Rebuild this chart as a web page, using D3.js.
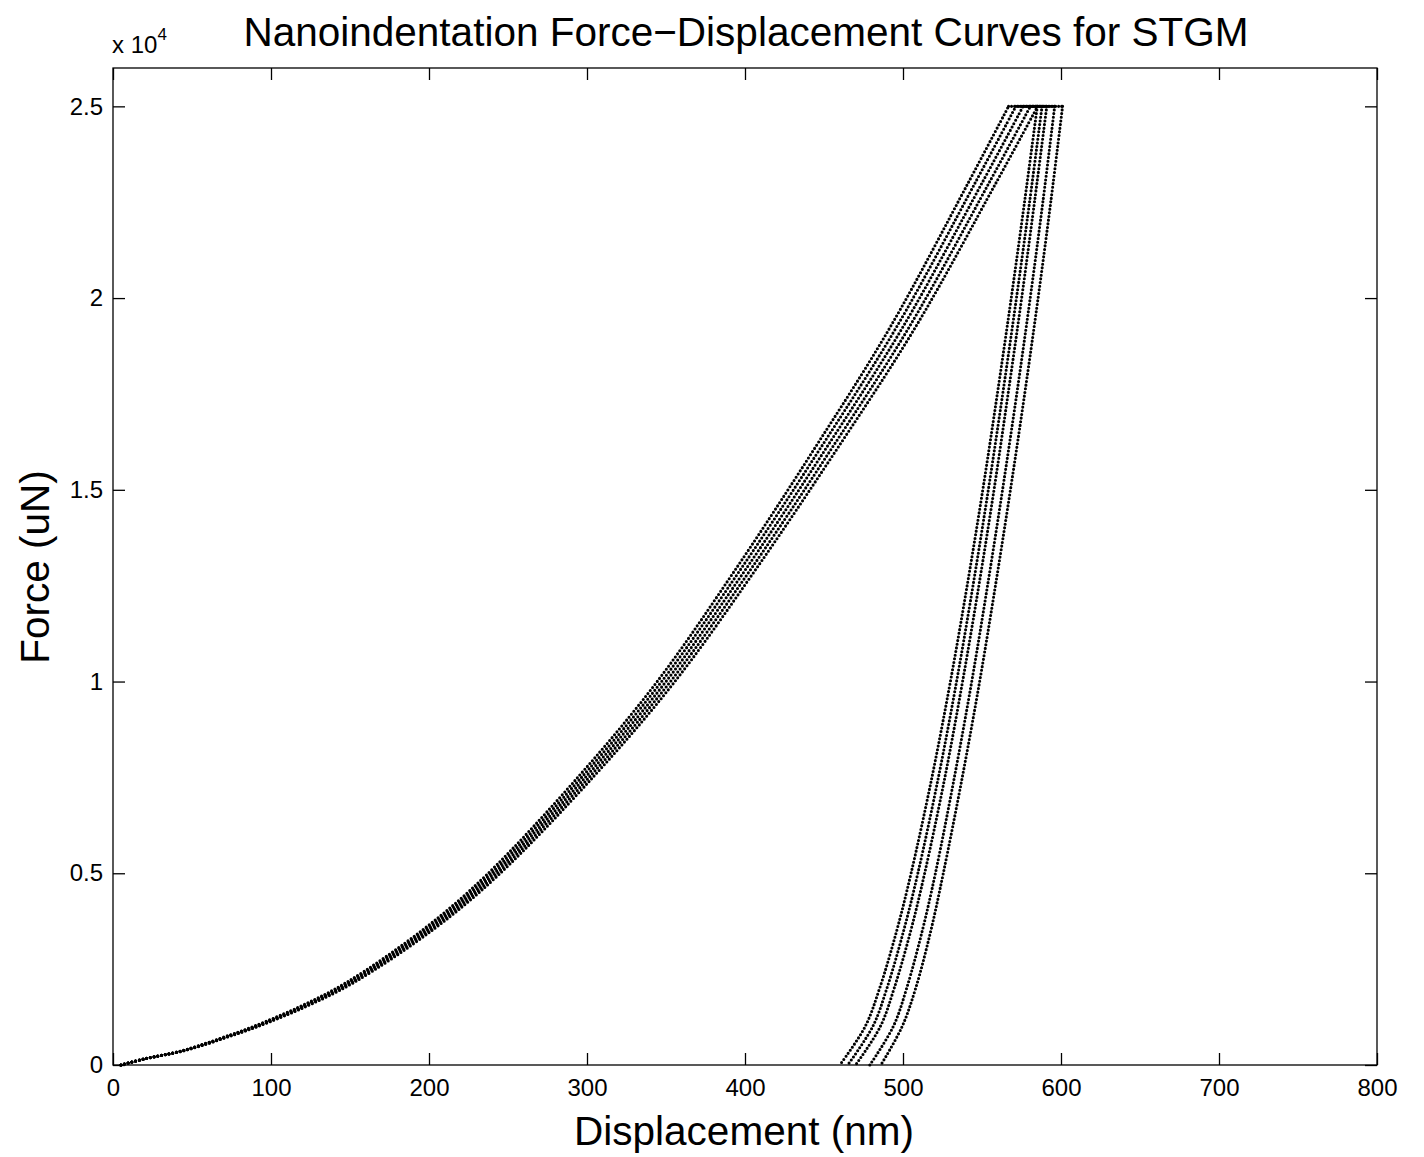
<!DOCTYPE html>
<html><head><meta charset="utf-8">
<script src="https://cdn.jsdelivr.net/npm/d3@7"></script>
<style>body{margin:0;background:#fff}svg{display:block}text{font-family:"Liberation Sans",Arial,Helvetica,sans-serif;fill:#000}</style>
</head><body><svg id="c" width="1424" height="1157"></svg>
<script>
// Loading: common force levels (uN) and displacement (nm) per test
const loadForce = [0, 160, 380, 780, 1000, 1520, 2150, 3550, 4950, 7550, 10000, 12900, 16000, 19250, 23000, 25000];
const loadDisp1 = [5, 19.7, 44.3, 73.8, 88.6, 118.1, 147.6, 196.8, 236.2, 295.2, 344.4, 393.6, 442.8, 492, 541.2, 566.8];
const loadDisp2 = [5, 19.8, 44.6, 74.4, 89.3, 119, 148.8, 198.4, 238.1, 297.6, 347.2, 396.8, 446.4, 496, 545.6, 571.4];
const loadDisp3 = [5, 20, 45, 75, 90, 120, 150, 200, 240, 300, 350, 400, 450, 500, 550, 576];
const loadDisp4 = [5, 20.2, 45.4, 75.6, 90.7, 121, 151.2, 201.6, 241.9, 302.4, 352.8, 403.2, 453.6, 504, 554.4, 580.6];
const loadDisp5 = [5, 20.3, 45.7, 76.2, 91.4, 121.9, 152.4, 203.2, 243.8, 304.8, 355.6, 406.4, 457.2, 508, 558.8, 585.2];
// Unloading: common force levels and displacement per test (first point = end of hold)
const unloadForce = [25000, 22500, 20000, 17500, 15000, 12500, 10000, 7500, 5000, 3500, 2000, 1000, 0];
const unloadDisp1 = [585, 576.9, 568.5, 559.7, 550.5, 540.6, 530.0, 518.3, 505.1, 496.0, 485.2, 476.0, 460];
const unloadDisp2 = [588, 580.1, 571.8, 563.1, 554.0, 544.3, 533.9, 522.4, 509.4, 500.4, 489.8, 480.8, 465];
const unloadDisp3 = [591, 583.2, 575.1, 566.5, 557.6, 548.0, 537.7, 526.5, 513.7, 504.9, 494.4, 485.6, 470];
const unloadDisp4 = [596, 588.5, 580.5, 572, 563, 553.5, 543.5, 532.5, 520.5, 512.2, 502.3, 493.8, 479];
const unloadDisp5 = [601, 593.5, 585.5, 577, 568, 558.5, 548.5, 537.5, 525.5, 517.6, 508.0, 499.4, 486];
const xTicks = [0, 100, 200, 300, 400, 500, 600, 700, 800];
const yTicks = [0, 5000, 10000, 15000, 20000, 25000];
const yTickLabels = ["0", "0.5", "1", "1.5", "2", "2.5"];

const loads = [loadDisp1, loadDisp2, loadDisp3, loadDisp4, loadDisp5];
const unloads = [unloadDisp1, unloadDisp2, unloadDisp3, unloadDisp4, unloadDisp5];

const L = 113, R = 1377, T = 68, B = 1065;
const svg = d3.select("#c");
const x = d3.scaleLinear().domain([0, 800]).range([L, R]);
const y = d3.scaleLinear().domain([0, 26000]).range([B, T]);

const lineC = d3.line().x(d => x(d[0])).y(d => y(d[1])).curve(d3.curveCatmullRom.alpha(0.5));

const g = svg.append("g");
const style = (p, gap) => p.attr("fill", "none").attr("stroke", "#000").attr("stroke-width", 3.1)
  .attr("stroke-linecap", "round").attr("stroke-dasharray", `0 ${gap}`);
loads.forEach((ld, i) => {
  const lp = ld.map((d, j) => [d, loadForce[j]]);
  const up = unloads[i].map((d, j) => [d, unloadForce[j]]);
  g.append("path").attr("d", lineC(lp)).call(style, 3.8);
  g.append("path").attr("d", lineC([lp[lp.length - 1], up[0]])).call(style, 3);
  g.append("path").attr("d", lineC(up)).call(style, 3.7);
});

// axes box
svg.append("rect").attr("x", L).attr("y", T).attr("width", R - L).attr("height", B - T)
  .attr("fill", "none").attr("stroke", "#000").attr("stroke-width", 1.3);

const tl = 12;
const axB = svg.append("g").attr("transform", `translate(0,${B})`)
  .call(d3.axisBottom(x).tickValues(xTicks).tickSize(-tl).tickPadding(14).tickFormat(d3.format("d")));
const axT = svg.append("g").attr("transform", `translate(0,${T})`)
  .call(d3.axisTop(x).tickValues(xTicks).tickSize(-tl).tickFormat(""));
const axL = svg.append("g").attr("transform", `translate(${L},0)`)
  .call(d3.axisLeft(y).tickValues(yTicks).tickSize(-tl).tickPadding(10).tickFormat((d, i) => yTickLabels[i]));
const axR = svg.append("g").attr("transform", `translate(${R},0)`)
  .call(d3.axisRight(y).tickValues(yTicks).tickSize(-tl).tickFormat(""));
[axB, axT, axL, axR].forEach(a => {
  a.select(".domain").remove();
  a.selectAll("line").attr("stroke", "#000").attr("stroke-width", 1.3);
  a.selectAll("text").style("font-family", '"Liberation Sans", Arial, sans-serif').style("font-size", "24px").attr("fill", "#000");
});
axB.selectAll("text").attr("dy", "0.71em");

// exponent
const ex = svg.append("text").attr("x", L - 1).attr("y", 53).style("font-size", "24px");
ex.append("tspan").text("x 10");
ex.append("tspan").attr("dy", -13).style("font-size", "17px").text("4");

svg.append("text").attr("x", 746).attr("y", 46).attr("text-anchor", "middle")
  .style("font-size", "40.5px").text("Nanoindentation Force\u2212Displacement Curves for STGM");
svg.append("text").attr("x", 744).attr("y", 1145).attr("text-anchor", "middle")
  .style("font-size", "40.5px").text("Displacement (nm)");
svg.append("text").attr("transform", "translate(49,567) rotate(-90)").attr("text-anchor", "middle")
  .style("font-size", "40.5px").text("Force (uN)");
</script></body></html>
